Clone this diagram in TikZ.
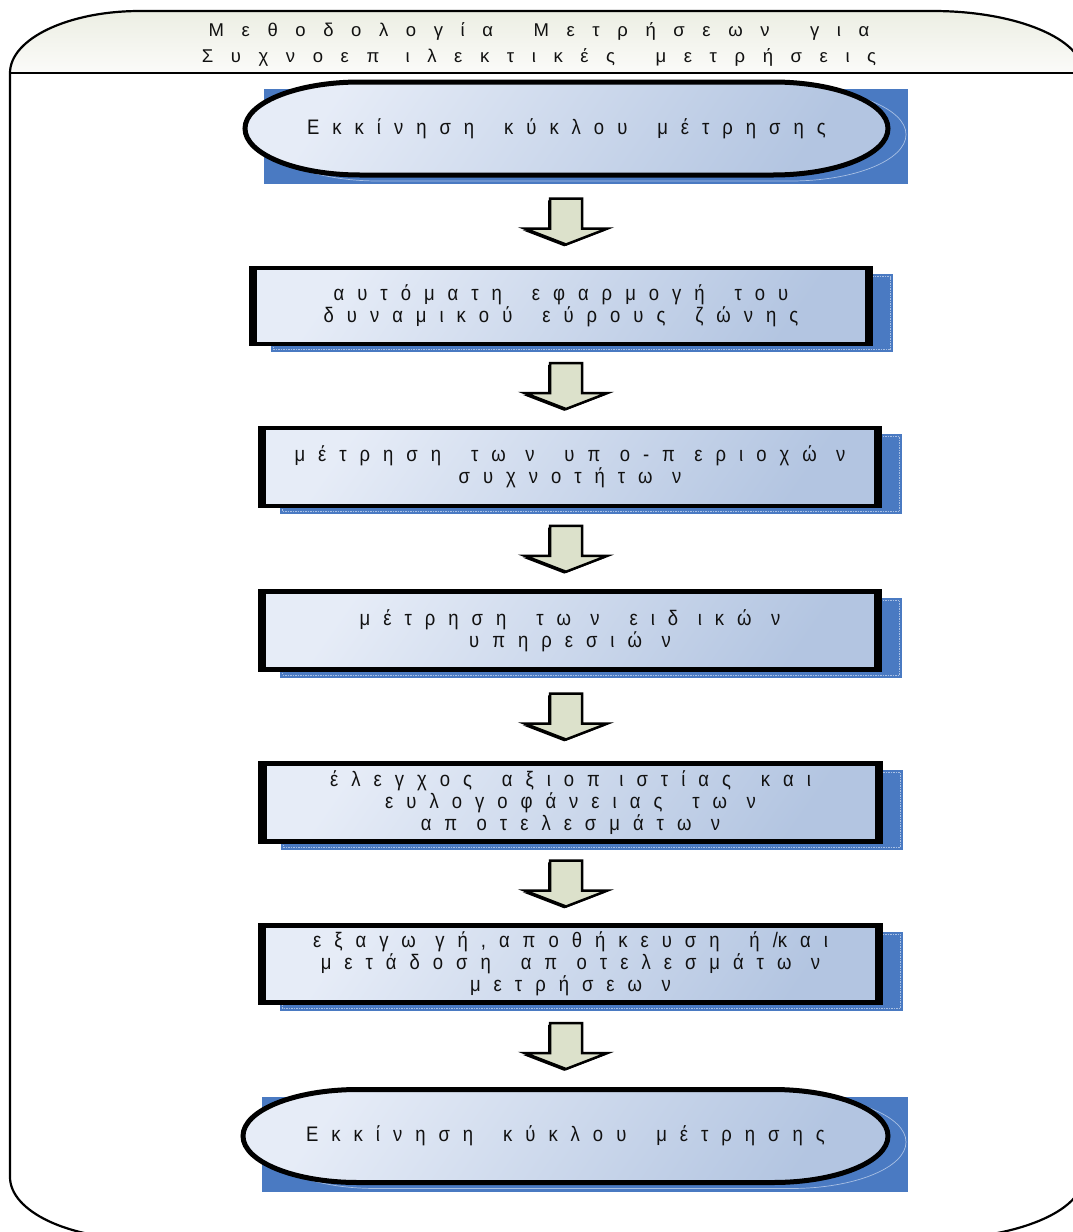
\documentclass[tikz,border=0pt]{standalone}
\usepackage{fontspec}
\setmainfont{Liberation Sans}
\newfontfamily\boxfont{Liberation Sans}[FakeStretch=0.88]
\usetikzlibrary{calc,backgrounds}
\definecolor{shadowblue}{HTML}{4A7AC2}
\definecolor{shadowline}{HTML}{A9C0E4}
\definecolor{gradA}{HTML}{E6ECF7}
\definecolor{gradB}{HTML}{B3C5E1}
\definecolor{arrowfill}{HTML}{DCE1CB}
\definecolor{headA}{HTML}{ECEEE3}
\definecolor{headB}{HTML}{FBFBF9}
\definecolor{txt}{HTML}{111111}
\newcommand\Wg{\hskip2.3\spaceskip\relax}
\newcommand\Mg{\hskip1.5\spaceskip\relax}
\tikzset{
  boxtext/.style={align=center, text=txt, inner sep=0pt, outer sep=0pt,
    font=\boxfont\fontsize{21}{22}\selectfont, execute at begin node={\spaceskip=13pt\relax}},
  headtext/.style={align=center, text=txt, inner sep=0pt, outer sep=0pt,
    font=\fontsize{18.5}{26}\selectfont, execute at begin node={\spaceskip=17.6pt\relax}},
  gradfill/.style={shading=axis, top color=gradA, bottom color=gradB, shading angle=55},
  shadowdash/.style={draw=shadowline, line width=0.6pt, dash pattern=on 1.5pt off 1pt},
  arrowstyle/.style={draw=black, line width=2.5pt, fill=arrowfill, line join=miter},
  frame/.style={draw=black, line width=2.2pt},
  pics/blockarrow/.style={code={
    \fill[black, shift={(-1.8,1.8)}] (-16,-23) -- (16,-23) -- (16,7) -- (41.5,7) -- (0,23) -- (-41.5,7) -- (-16,7) -- cycle;
    \draw[arrowstyle] (-16,-23) -- (16,-23) -- (16,7) -- (41.5,7) -- (0,23) -- (-41.5,7) -- (-16,7) -- cycle;
  }}
}
\newcommand\stadium[3]{%
  \path[#3] ($(#1.north west)+(#2,0)$) -- ($(#1.north east)+(-#2,0)$)
    arc[start angle=-90,end angle=90,x radius=#2,y radius=46.5]
    -- ($(#1.south west)+(#2,0)$)
    arc[start angle=90,end angle=270,x radius=#2,y radius=46.5] -- cycle;}
\newcommand\boxshape[1]{%
  \fill[shadowblue] ($(#1.north west)+(20,6)$) rectangle ($(#1.south east)+(22,8)$);
  \draw[shadowdash] ($(#1.north west)+(22.5,8.5)$) rectangle ($(#1.south east)+(19.5,5.5)$);
  \path[gradfill] (#1.north west) rectangle (#1.south east);
  \draw[line width=4.5pt] (#1.north west) rectangle (#1.south east);
  \fill[black] ($(#1.north west)+(-2,0)$) rectangle ($(#1.south west)+(6,0)$);
  \fill[black] ($(#1.north east)+(-6,0)$) rectangle ($(#1.south east)+(2,0)$);}
\newcommand\ovalshape[1]{%
  \fill[shadowblue] ($(#1.north west)+(19,7)$) rectangle ($(#1.south east)+(20,9)$);
  \begin{scope}[transform canvas={shift={(18,6)}}]
    \stadium{#1}{115}{draw=shadowline, line width=0.7pt}
  \end{scope}
  \stadium{#1}{115}{gradfill, draw=black, line width=5pt}}
\begin{document}
\begin{tikzpicture}[x=1pt,y=-1pt]
\useasboundingbox (0,0) rectangle (1073,1232);
\clip (0,0) rectangle (1073,1232);
% text nodes
\node[headtext] (head) at (539,44) {Μ ε θ ο δ ο λ ο γ ί α\Wg Μ ε τ ρ ή σ ε ω ν\Wg γ ι α\\Σ υ χ ν ο ε π\Mg ι λ ε κ τ ι κ έ ς\Wg μ ε τ ρ ή σ ε ι ς};
\node[boxtext, minimum width=643, minimum height=93] (e1) at (566.5,128.5) {Ε κ κ ί ν η σ η\Wg κ ύ κ λ ο υ\Wg μ έ τ ρ η σ η ς};
\node[boxtext, minimum width=620, minimum height=76] (b1) at (561,306) {α υ τ ό μ α τ η\Wg ε φ α ρ μ ο γ ή\Wg τ ο υ\\δ υ ν α μ ι κ ο ύ\Wg ε ύ ρ ο υ ς\Wg ζ ώ ν η ς};
\node[boxtext, minimum width=620, minimum height=78] (b2) at (570,467) {μ έ τ ρ η σ η\Wg τ ω\Mg ν\Wg υ π\Mg ο - π\Mg ε ρ ι ο χ ώ\Mg ν\\σ υ χ ν ο τ ή τ ω\Mg ν};
\node[boxtext, minimum width=620, minimum height=78] (b3) at (570,630.5) {μ έ τ ρ η σ η\Wg τ ω\Mg ν\Wg ε ι δ\Mg ι κ ώ\Mg ν\\υ π η ρ ε σ ι ώ\Mg ν};
\node[boxtext, minimum width=620, minimum height=78] (b4) at (570.5,802.5) {έ λ ε γ χ ο ς\Wg α ξ ι ο π\Mg ι σ τ ί α ς\Wg κ α ι\\ε υ λ ο γ ο φ ά ν ε ι α ς\Wg τ ω\Mg ν\\α π\Mg ο τ ε λ ε σ μ ά τ ω\Mg ν};
\node[boxtext, minimum width=621, minimum height=77] (b5) at (570.5,964) {ε ξ α γ ω\Mg γ ή , α π ο θ ή κ ε υ σ η\Wg ή /κ α ι\\μ ε τ ά δ ο σ η\Wg α π\Mg ο τ ε λ ε σ μ ά τ ω\Mg ν\\μ ε τ ρ ή σ ε ω\Mg ν};
\node[boxtext, minimum width=645, minimum height=93] (e2) at (565.5,1136) {Ε κ κ ί ν η σ η\Wg κ ύ κ λ ο υ\Wg μ έ τ ρ η σ η ς};
\coordinate (ax) at (566,0);
\coordinate (m1) at ($(e1.south)!0.5!(b1.north)$);
\coordinate (m2) at ($(b1.south)!0.5!(b2.north)$);
\coordinate (m3) at ($(b2.south)!0.5!(b3.north)$);
\coordinate (m4) at ($(b3.south)!0.5!(b4.north)$);
\coordinate (m5) at ($(b4.south)!0.5!(b5.north)$);
\coordinate (m6) at ($(b5.south)!0.5!(e2.north)$);
\begin{scope}[on background layer]
  % header background
  \path[top color=headA, bottom color=headB] (10,73) arc[start angle=180,end angle=270,x radius=130,y radius=62] -- (933,11) arc[start angle=270,end angle=360,x radius=150,y radius=62] -- (1083,73) -- cycle;
  % outer frame
  \draw[frame] (10,73) arc[start angle=180,end angle=270,x radius=130,y radius=62] -- (933,11) arc[start angle=270,end angle=360,x radius=150,y radius=62] -- (1083,1177) arc[start angle=0,end angle=90,x radius=150,y radius=62] -- (140,1239) arc[start angle=90,end angle=180,x radius=130,y radius=62] -- cycle;
  \draw[line width=1.5pt] (10,73) -- (1083,73);
  \draw[line width=1.2pt] (10,73) -- (10,1177);
  % shapes
  \ovalshape{e1}
  \boxshape{b1}
  \boxshape{b2}
  \boxshape{b3}
  \boxshape{b4}
  \boxshape{b5}
  \ovalshape{e2}
  % block arrows
  \pic at (ax |- m1) {blockarrow};
  \pic at (ax |- m2) {blockarrow};
  \pic at (ax |- m3) {blockarrow};
  \pic at (ax |- m4) {blockarrow};
  \pic at (ax |- m5) {blockarrow};
  \pic at (ax |- m6) {blockarrow};
\end{scope}
\end{tikzpicture}
\end{document}
